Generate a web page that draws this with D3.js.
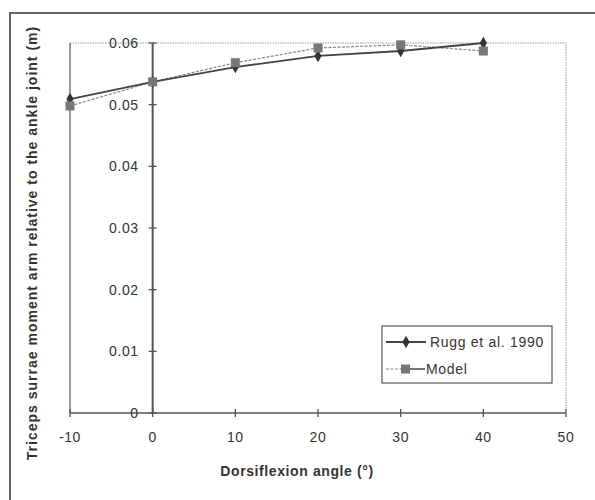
<!DOCTYPE html>
<html>
<head>
<meta charset="utf-8">
<script src="https://cdn.jsdelivr.net/npm/d3@7"></script>
<style>
  body { margin: 0; background: #fff; }
  text { font-family: "Liberation Sans", Arial, sans-serif; fill: #333; }
</style>
</head>
<body>
<div id="chart"></div>
<script>
const angles = [-10, 0, 10, 20, 30, 40];
const rugg = [0.0509, 0.0537, 0.0561, 0.0579, 0.0587, 0.0600];
const model = [0.0498, 0.0537, 0.0568, 0.0592, 0.0597, 0.0587];
const xTicks = [-10, 0, 10, 20, 30, 40, 50];
const yTicks = [0, 0.01, 0.02, 0.03, 0.04, 0.05, 0.06];

const width = 595, height = 500;
const svg = d3.select("#chart").append("svg")
  .attr("width", width).attr("height", height);

// outer frame, runs off the right and bottom edges
svg.append("path")
  .attr("d", "M10,500 L10,13 L595,13")
  .attr("fill", "none").attr("stroke", "#666").attr("stroke-width", 2);

const x = d3.scaleLinear().domain([-10, 50]).range([70, 566]);
const y = d3.scaleLinear().domain([0, 0.06]).range([413, 43]);

// plot area border
svg.append("path")
  .attr("d", `M${x(-10)},${y(0)} L${x(-10)},${y(0.06)} L${x(50)},${y(0.06)} L${x(50)},${y(0)}`)
  .attr("fill", "none").attr("stroke", "#999").attr("stroke-dasharray", "1.5,1");
svg.append("line")
  .attr("x1", x(-10)).attr("x2", x(-10)).attr("y1", y(0)).attr("y2", y(0.06))
  .attr("stroke", "#666").attr("stroke-width", 1.2);

// x axis at y = 0
svg.append("line")
  .attr("x1", x(-10)).attr("x2", x(50)).attr("y1", y(0)).attr("y2", y(0))
  .attr("stroke", "#555").attr("stroke-width", 1.3);
svg.selectAll(".xt").data(xTicks).enter().append("line")
  .attr("x1", d => x(d)).attr("x2", d => x(d))
  .attr("y1", y(0) - 4).attr("y2", y(0) + 4)
  .attr("stroke", "#555").attr("stroke-width", 1.3);
svg.selectAll(".xl").data(xTicks).enter().append("text")
  .attr("x", d => x(d)).attr("y", y(0) + 29)
  .attr("text-anchor", "middle").attr("font-size", 14).attr("letter-spacing", 0.6)
  .text(d => d);

// y axis at x = 0
svg.append("line")
  .attr("x1", x(0)).attr("x2", x(0)).attr("y1", y(0)).attr("y2", y(0.06))
  .attr("stroke", "#555").attr("stroke-width", 2);
svg.selectAll(".yt").data(yTicks).enter().append("line")
  .attr("x1", x(0) - 4).attr("x2", x(0) + 4)
  .attr("y1", d => y(d)).attr("y2", d => y(d))
  .attr("stroke", "#555").attr("stroke-width", 1.3);
svg.selectAll(".yl").data(yTicks).enter().append("text")
  .attr("x", x(0) - 14).attr("y", d => y(d) + 5)
  .attr("text-anchor", "end").attr("font-size", 14).attr("letter-spacing", 0.6)
  .text(d => d === 0 ? "0" : d.toFixed(2));

// series
const pts = vals => angles.map((a, i) => [x(a), y(vals[i])]);
const line = d3.line();

svg.append("path").attr("d", line(pts(model)))
  .attr("fill", "none").attr("stroke", "#888").attr("stroke-width", 1.2)
  .attr("stroke-dasharray", "3,1.5");
svg.append("path").attr("d", line(pts(rugg)))
  .attr("fill", "none").attr("stroke", "#444").attr("stroke-width", 1.8);

const diamond = d3.symbol().type(d3.symbolDiamond).size(45);
svg.selectAll(".rm").data(pts(rugg)).enter().append("path")
  .attr("d", diamond).attr("transform", d => `translate(${d[0]},${d[1]})`)
  .attr("fill", "#333");
svg.selectAll(".mm").data(pts(model)).enter().append("rect")
  .attr("x", d => d[0] - 4.5).attr("y", d => d[1] - 4.5)
  .attr("width", 9).attr("height", 9)
  .attr("fill", "#777");

// legend
const lg = svg.append("g").attr("transform", "translate(382,326)");
lg.append("rect").attr("width", 170).attr("height", 57)
  .attr("fill", "#fff").attr("stroke", "#555").attr("stroke-width", 1.2);
lg.append("line").attr("x1", 4).attr("x2", 44).attr("y1", 16).attr("y2", 16)
  .attr("stroke", "#444").attr("stroke-width", 1.8);
lg.append("path").attr("d", diamond).attr("transform", "translate(24,16)").attr("fill", "#333");
lg.append("text").attr("x", 48).attr("y", 21).attr("font-size", 14).attr("letter-spacing", 0.7)
  .text("Rugg et al. 1990");
lg.append("line").attr("x1", 4).attr("x2", 20).attr("y1", 43).attr("y2", 43)
  .attr("stroke", "#888").attr("stroke-width", 1.2).attr("stroke-dasharray", "3,1.5");
lg.append("line").attr("x1", 24).attr("x2", 43).attr("y1", 43).attr("y2", 43)
  .attr("stroke", "#444").attr("stroke-width", 1.5);
lg.append("rect").attr("x", 19).attr("y", 38.5).attr("width", 9).attr("height", 9).attr("fill", "#777");
lg.append("text").attr("x", 44).attr("y", 48).attr("font-size", 14).attr("letter-spacing", 0.7)
  .text("Model");

// axis titles
svg.append("text").attr("x", 297).attr("y", 476)
  .attr("text-anchor", "middle").attr("font-size", 14).attr("font-weight", "bold")
  .attr("letter-spacing", 0.6).attr("fill", "#444")
  .text("Dorsiflexion angle (°)");
svg.append("text")
  .attr("transform", "translate(37,243) rotate(-90)")
  .attr("text-anchor", "middle").attr("font-size", 14).attr("font-weight", "bold")
  .attr("letter-spacing", 1.0)
  .text("Triceps surrae moment arm relative to the ankle joint (m)");
</script>
</body>
</html>
